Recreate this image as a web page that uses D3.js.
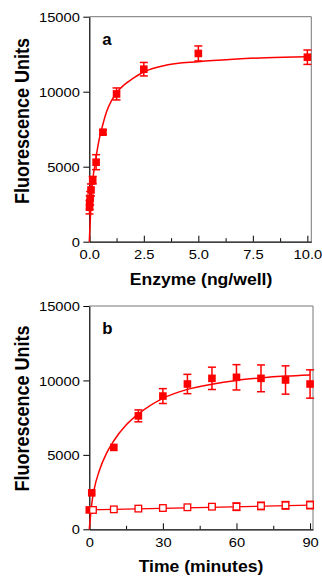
<!DOCTYPE html>
<html><head><meta charset="utf-8">
<script src="https://cdn.jsdelivr.net/npm/d3@7/dist/d3.min.js"></script>
<style>
html,body{margin:0;padding:0;background:#fff;}
svg{display:block;}
text{font-family:"Liberation Sans",Arial,Helvetica,sans-serif;fill:#000;}
</style></head><body>
<script>
// ---------- Panel a data ----------
const enzyme      = [10, 5, 2.5, 1.25, 0.625, 0.3125, 0.156, 0.078, 0.039, 0.0195, 0.0098];
const enzymeFluor = [12300, 12550, 11500, 9850, 7300, 5300, 4100, 3450, 2900, 2600, 2300];
const enzymeErr   = [480, 500, 450, 400, 150, 500, 250, 400, 450, 450, 450];
const fitAx = [0, 0.03, 0.06, 0.12, 0.2, 0.26, 0.34, 0.45, 0.6, 0.8, 1.02, 1.41, 2.02, 2.51, 3.55, 5.0, 6.6, 8.13, 10];
const fitAy = [0, 1000, 1900, 3500, 4600, 5100, 5900, 6800, 7700, 8700, 9400, 10200, 10900, 11330, 11780, 12000, 12160, 12270, 12330];
const ticksAx = [0, 2.5, 5, 7.5, 10];
const minorAx = [1.25, 3.75, 6.25, 8.75];
const tickLabelsAx = ["0.0", "2.5", "5.0", "7.5", "10.0"];

// ---------- Panel b data ----------
const timeFilled  = [0, 1, 10, 20, 30, 40, 50, 60, 70, 80, 90];
const fluorFilled = [1300, 2450, 5500, 7620, 8950, 9760, 10140, 10210, 10140, 10030, 9760];
const errFilled   = [0, 0, 0, 400, 500, 650, 750, 850, 900, 950, 950];
const timeOpen    = [1.5, 10, 20, 30, 40, 50, 60, 70, 80, 90];
const fluorOpen   = [1300, 1340, 1390, 1430, 1480, 1520, 1520, 1570, 1610, 1630];
const errOpen     = [0, 0, 0, 0, 0, 100, 250, 250, 250, 250];
const fitBx = [0, 0.5, 1, 2, 4, 7, 10, 15, 20, 30, 40, 50, 60, 70, 80, 90];
const fitBy = [0, 900, 1700, 2700, 3900, 5100, 5950, 7000, 7750, 8800, 9400, 9750, 10000, 10170, 10290, 10370];
const lineOpenX = [0, 90];
const lineOpenY = [1300, 1620];
const ticksBx = [0, 30, 60, 90];
const minorBx = [15, 45, 75];
const tickLabelsBx = ["0", "30", "60", "90"];

const ticksY = [0, 5000, 10000, 15000];
const tickLabelsY = ["0", "5000", "10000", "15000"];

const RED = "#ff0000";
const SX = 1.13;

const svg = d3.select("body").append("svg").attr("width", 322).attr("height", 576);

function panel(cfg) {
  const x = d3.scaleLinear().domain(cfg.xDomain).range([cfg.left, cfg.right]);
  const y = d3.scaleLinear().domain([0, 15000]).range([cfg.bottom, cfg.top]);
  const g = svg.append("g");

  g.append("path")
    .attr("d", `M${cfg.left},${cfg.top}H${cfg.right}V${cfg.bottom}`)
    .attr("fill", "none").attr("stroke", "#777").attr("stroke-width", 1);

  const minor = g.append("g").attr("transform", `translate(0,${cfg.bottom})`)
    .call(d3.axisBottom(x).tickValues(cfg.minor).tickSizeInner(-3.5).tickSizeOuter(0).tickFormat(""));
  minor.select(".domain").remove();
  minor.selectAll("line").attr("stroke", "#000").attr("stroke-width", 1);

  const xa = g.append("g").attr("transform", `translate(0,${cfg.bottom})`)
    .call(d3.axisBottom(x).tickValues(cfg.xTicks).tickSizeInner(-6).tickSizeOuter(0)
      .tickFormat((d, i) => cfg.xLabels[i]));
  xa.select(".domain").attr("stroke", "#000").attr("stroke-width", 1.2);
  xa.selectAll("line").attr("stroke", "#000").attr("stroke-width", 1);
  xa.selectAll("text").attr("y", 0).attr("dy", 0)
    .attr("transform", `translate(0,${cfg.xLabelDy}) scale(${SX},1)`)
    .attr("font-size", 13).attr("fill", "#000");

  const ya = g.append("g").attr("transform", `translate(${cfg.left},0)`)
    .call(d3.axisLeft(y).tickValues(ticksY).tickSize(6).tickSizeOuter(0)
      .tickFormat((d, i) => tickLabelsY[i]));
  ya.select(".domain").attr("stroke", "#000").attr("stroke-width", 1.2);
  ya.selectAll("line").attr("stroke", "#000").attr("stroke-width", 1);
  ya.selectAll("text").attr("x", 0).attr("dy", 0)
    .attr("transform", `translate(-9.5,4.6) scale(${SX},1)`)
    .attr("font-size", 13).attr("fill", "#000");

  g.append("text").attr("text-anchor", "middle").attr("font-weight", "bold").attr("font-size", 18)
    .attr("transform", `translate(${cfg.yTitleX},${cfg.yTitleY}) scale(1.12,1) rotate(-90)`)
    .text("Fluorescence Units");
  g.append("text").attr("text-anchor", "middle").attr("font-weight", "bold").attr("font-size", 16)
    .attr("transform", `translate(${cfg.xTitleX},${cfg.xTitleY}) scale(1.1,1)`)
    .text(cfg.xTitle);
  g.append("text").attr("font-weight", "bold").attr("font-size", 16)
    .attr("transform", `translate(${cfg.left + 13},${cfg.top + cfg.letterDy}) scale(1.05,1)`)
    .text(cfg.letter);

  return {g, x, y};
}

function drawSeries(P, xs, ys, errs, filled) {
  const eb = P.g.append("g").attr("stroke", RED).attr("stroke-width", 1.5);
  xs.forEach((d, i) => {
    if (!errs[i]) return;
    const cx = P.x(d), y1 = P.y(ys[i] + errs[i]), y2 = P.y(ys[i] - errs[i]);
    eb.append("line").attr("x1", cx).attr("x2", cx).attr("y1", y1).attr("y2", y2);
    eb.append("line").attr("x1", cx - 4).attr("x2", cx + 4).attr("y1", y1).attr("y2", y1);
    eb.append("line").attr("x1", cx - 4).attr("x2", cx + 4).attr("y1", y2).attr("y2", y2);
  });
  const s = filled ? 7.6 : 6.6;
  P.g.append("g").selectAll("rect").data(xs).join("rect")
    .attr("x", d => P.x(d) - s / 2)
    .attr("y", (d, i) => P.y(ys[i]) - s / 2)
    .attr("width", s).attr("height", s)
    .attr("fill", filled ? RED : "#fff")
    .attr("stroke", filled ? "none" : RED)
    .attr("stroke-width", filled ? 0 : 1.3);
}

function drawLine(P, xs, ys, w, curve) {
  const line = d3.line().x(d => P.x(d[0])).y(d => P.y(d[1])).curve(curve);
  P.g.append("path").datum(xs.map((d, i) => [d, ys[i]]))
    .attr("d", line).attr("fill", "none").attr("stroke", RED).attr("stroke-width", w);
}

const A = panel({
  xDomain: [0, 10.18], left: 89.3, right: 311.3, top: 16.7, bottom: 241.7,
  xTicks: ticksAx, minor: minorAx, xLabels: tickLabelsAx, xLabelDy: 17.5,
  yTitleX: 28.5, yTitleY: 121, xTitleX: 201, xTitleY: 285, xTitle: "Enzyme (ng/well)",
  letter: "a", letterDy: 28.5
});
drawLine(A, fitAx, fitAy, 1.5, d3.curveMonotoneX);
drawSeries(A, enzyme, enzymeFluor, enzymeErr, true);

const B = panel({
  xDomain: [0, 91.2], left: 89.3, right: 313, top: 306, bottom: 529.3,
  xTicks: ticksBx, minor: minorBx, xLabels: tickLabelsBx, xLabelDy: 18,
  yTitleX: 28.5, yTitleY: 408.5, xTitleX: 201, xTitleY: 571.5, xTitle: "Time (minutes)",
  letter: "b", letterDy: 27.5
});
drawLine(B, fitBx, fitBy, 1.5, d3.curveMonotoneX);
drawLine(B, lineOpenX, lineOpenY, 1.3, d3.curveLinear);
drawSeries(B, timeFilled, fluorFilled, errFilled, true);
drawSeries(B, timeOpen, fluorOpen, errOpen, false);
</script>
</body></html>
